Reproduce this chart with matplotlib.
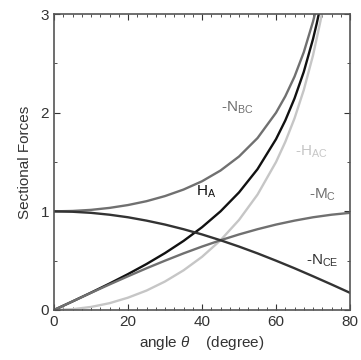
import matplotlib
matplotlib.use("Agg")
import matplotlib.pyplot as plt
from matplotlib.ticker import MultipleLocator

plt.rcParams["font.family"] = ["Liberation Sans", "DejaVu Sans"]
plt.rcParams["mathtext.fontset"] = "custom"
plt.rcParams["mathtext.rm"] = "Liberation Sans"
plt.rcParams["mathtext.it"] = "Liberation Sans:italic"

# angle theta (degree) and the sectional forces
angle_steep = [0, 5, 10, 15, 20, 25, 30, 35, 40, 45, 50, 55, 60,
               62.5, 65, 67.5, 70, 71, 72, 73, 74]
angle_full = [0, 5, 10, 15, 20, 25, 30, 35, 40, 45, 50, 55, 60,
              65, 70, 75, 80]

n_bc = [1.000, 1.004, 1.015, 1.035, 1.064, 1.103, 1.155, 1.221, 1.305,
        1.414, 1.556, 1.743, 2.000, 2.166, 2.366, 2.613, 2.924, 3.072,
        3.236, 3.420, 3.628]
h_a = [0.000, 0.087, 0.176, 0.268, 0.364, 0.466, 0.577, 0.700, 0.839,
       1.000, 1.192, 1.428, 1.732, 1.921, 2.145, 2.414, 2.747, 2.904,
       3.078, 3.271, 3.487]
h_ac = [0.000, 0.008, 0.031, 0.069, 0.125, 0.197, 0.289, 0.402, 0.539,
        0.707, 0.913, 1.170, 1.500, 1.704, 1.943, 2.230, 2.582, 2.754,
        2.927, 3.128, 3.352]
m_c = [0.000, 0.087, 0.174, 0.259, 0.342, 0.423, 0.500, 0.574, 0.643,
       0.707, 0.766, 0.819, 0.866, 0.906, 0.940, 0.966, 0.985]
n_ce = [1.000, 0.996, 0.985, 0.966, 0.940, 0.906, 0.866, 0.819, 0.766,
        0.707, 0.643, 0.574, 0.500, 0.423, 0.342, 0.259, 0.174]

fig = plt.figure(figsize=(3.61, 3.60), dpi=100)
ax = fig.add_axes([0.1496, 0.1389, 0.820, 0.822])

lw = 1.7
ax.plot(angle_steep, n_bc, color="#707070", lw=lw)
ax.plot(angle_steep, h_ac, color="#c6c6c6", lw=lw)
ax.plot(angle_steep, h_a, color="#111111", lw=lw)
ax.plot(angle_full, m_c, color="#707070", lw=lw)
ax.plot(angle_full, n_ce, color="#333333", lw=lw)

fs = 11
ax.text(49.5, 2.05, r"-N$_{\rm BC}$", color="#707070", fontsize=fs,
        ha="center", va="center")
ax.text(69.5, 1.6, r"-H$_{\rm AC}$", color="#c6c6c6", fontsize=fs,
        ha="center", va="center")
ax.text(41.0, 1.2, r"H$_{\rm A}$", color="#111111", fontsize=fs,
        ha="center", va="center")
ax.text(72.5, 1.17, r"-M$_{\rm C}$", color="#707070", fontsize=fs,
        ha="center", va="center")
ax.text(72.5, 0.5, r"-N$_{\rm CE}$", color="#333333", fontsize=fs,
        ha="center", va="center")

ax.set_xlim(0, 80)
ax.set_ylim(0, 3)
ax.set_xticks([0, 20, 40, 60, 80])
ax.set_yticks([0, 1, 2, 3])
ax.xaxis.set_minor_locator(MultipleLocator(2.5))
ax.yaxis.set_minor_locator(MultipleLocator(0.5))
ax.tick_params(which="both", direction="in", top=True, right=True,
               labelsize=11, colors="#333333")
ax.tick_params(which="major", length=4)
ax.tick_params(which="minor", length=2.5)
for s in ax.spines.values():
    s.set_color("#555555")
    s.set_linewidth(1.2)

ax.set_xlabel(r"angle $\theta$    (degree)", fontsize=11, color="#333333")
ax.set_ylabel("Sectional Forces", fontsize=11, color="#333333", labelpad=6)

fig.savefig("out.png", dpi=100)
